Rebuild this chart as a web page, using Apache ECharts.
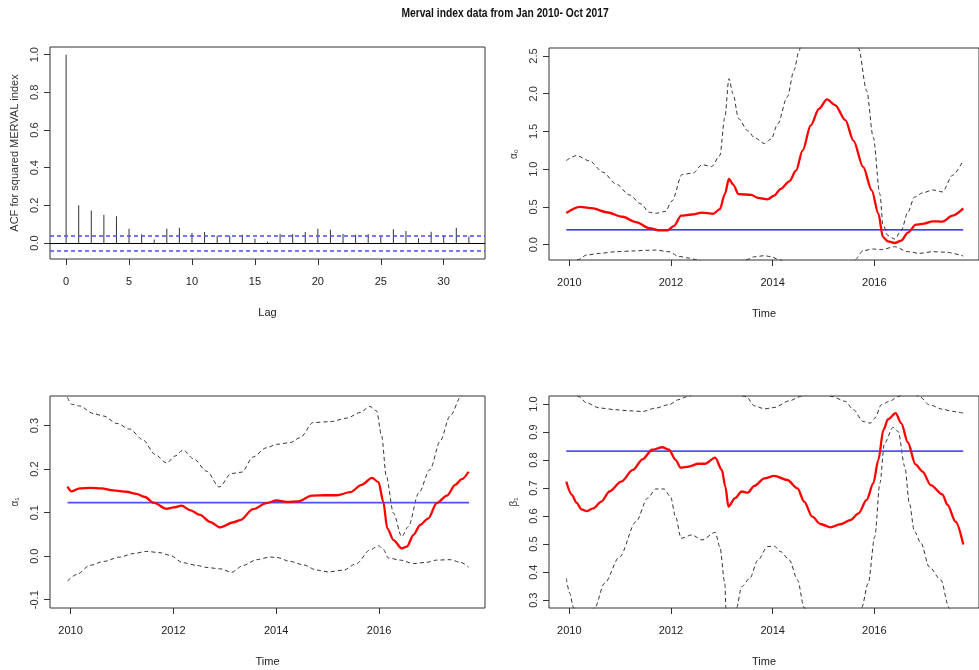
<!DOCTYPE html>
<html>
<head>
<meta charset="utf-8">
<script src="https://cdn.jsdelivr.net/npm/echarts@6/dist/echarts.min.js"></script>
<style>html,body{margin:0;padding:0;background:#fff;}#c{width:979px;height:670px;}</style>
</head>
<body>
<div id="c"></div>
<script>
// ---------- DATA ----------
const chartTitle = 'Merval index data from Jan 2010- Oct 2017';
const acfLags = [0,1,2,3,4,5,6,7,8,9,10,11,12,13,14,15,16,17,18,19,20,21,22,23,24,25,26,27,28,29,30,31,32];
const acfValues = [1.0,0.20,0.172,0.150,0.142,0.076,0.046,0.018,0.076,0.081,0.053,0.058,0.039,0.039,0.044,0.023,0.007,0.048,0.048,0.058,0.076,0.071,0.048,0.044,0.046,0.034,0.073,0.064,0.025,0.060,0.039,0.081,0.034];
const acfCI = 0.045;
const acfXTicks = [0,5,10,15,20,25,30];
const acfYTicks = [0,0.2,0.4,0.6,0.8,1.0];

const timeTicks = [2010,2012,2014,2016];
const tStart = 2009.94, tEnd = 2017.75;

// alpha0
const a0Const = 0.195;
const a0Est = [[2009.94,0.42],[2010.21,0.50],[2010.47,0.48],[2010.73,0.43],[2011.05,0.37],[2011.31,0.30],[2011.57,0.22],[2011.76,0.19],[2011.93,0.19],[2012.06,0.25],[2012.20,0.385],[2012.41,0.40],[2012.61,0.425],[2012.83,0.41],[2012.96,0.47],[2013.06,0.67],[2013.14,0.87],[2013.22,0.80],[2013.33,0.67],[2013.58,0.66],[2013.71,0.62],[2013.90,0.60],[2014.03,0.65],[2014.16,0.74],[2014.33,0.84],[2014.46,0.98],[2014.59,1.25],[2014.75,1.58],[2014.91,1.80],[2015.07,1.925],[2015.23,1.85],[2015.43,1.65],[2015.59,1.38],[2015.78,1.03],[2015.95,0.72],[2016.08,0.41],[2016.17,0.10],[2016.27,0.044],[2016.40,0.022],[2016.53,0.053],[2016.66,0.16],[2016.82,0.265],[2016.98,0.28],[2017.15,0.31],[2017.34,0.305],[2017.54,0.385],[2017.75,0.48]];
const a0Upper = [[2009.94,1.115],[2010.14,1.18],[2010.40,1.11],[2010.66,0.96],[2010.92,0.805],[2011.18,0.66],[2011.41,0.54],[2011.57,0.43],[2011.70,0.416],[2011.89,0.44],[2012.02,0.58],[2012.22,0.93],[2012.44,0.95],[2012.61,1.06],[2012.80,1.035],[2012.96,1.18],[2013.06,1.69],[2013.14,2.20],[2013.22,2.00],[2013.33,1.67],[2013.51,1.51],[2013.64,1.42],[2013.84,1.34],[2013.97,1.40],[2014.10,1.60],[2014.29,1.96],[2014.42,2.31],[2014.52,2.57],[2014.62,2.9],[2014.9,3.5],[2015.2,3.8],[2015.45,3.4],[2015.69,2.60],[2015.85,2.04],[2015.98,1.42],[2016.11,0.67],[2016.17,0.27],[2016.27,0.12],[2016.40,0.075],[2016.53,0.186],[2016.66,0.43],[2016.79,0.63],[2016.95,0.686],[2017.15,0.725],[2017.34,0.70],[2017.54,0.92],[2017.75,1.12]];
const a0Lower = [[2009.94,-0.32],[2010.05,-0.26],[2010.17,-0.20],[2010.34,-0.137],[2010.60,-0.115],[2010.92,-0.093],[2011.25,-0.084],[2011.50,-0.075],[2011.70,-0.071],[2011.96,-0.093],[2012.15,-0.155],[2012.35,-0.177],[2012.51,-0.20],[2012.7,-0.26],[2013.0,-0.30],[2013.3,-0.25],[2013.48,-0.20],[2013.64,-0.16],[2013.84,-0.146],[2013.97,-0.16],[2014.13,-0.20],[2014.4,-0.30],[2014.8,-0.40],[2015.2,-0.38],[2015.45,-0.30],[2015.62,-0.20],[2015.78,-0.08],[2015.98,-0.058],[2016.14,-0.066],[2016.40,-0.027],[2016.66,-0.093],[2016.89,-0.115],[2017.15,-0.093],[2017.41,-0.10],[2017.75,-0.15]];
const a0YTicks = [0,0.5,1.0,1.5,2.0,2.5];

// alpha1
const a1Const = 0.123;
const a1Est = [[2009.94,0.160],[2010.02,0.149],[2010.18,0.156],[2010.38,0.157],[2010.60,0.156],[2010.83,0.151],[2011.09,0.148],[2011.28,0.143],[2011.45,0.136],[2011.61,0.123],[2011.87,0.109],[2012.00,0.112],[2012.16,0.116],[2012.32,0.106],[2012.52,0.095],[2012.71,0.079],[2012.91,0.066],[2013.17,0.078],[2013.30,0.083],[2013.55,0.108],[2013.81,0.122],[2014.01,0.128],[2014.20,0.125],[2014.43,0.126],[2014.69,0.139],[2014.95,0.140],[2015.18,0.140],[2015.44,0.147],[2015.66,0.164],[2015.86,0.180],[2015.99,0.170],[2016.08,0.126],[2016.16,0.064],[2016.28,0.037],[2016.44,0.018],[2016.54,0.022],[2016.67,0.049],[2016.80,0.072],[2016.96,0.087],[2017.12,0.122],[2017.32,0.139],[2017.48,0.164],[2017.61,0.177],[2017.74,0.194]];
const a1Upper = [[2009.94,0.365],[2010.02,0.349],[2010.18,0.345],[2010.44,0.328],[2010.64,0.322],[2010.90,0.305],[2011.15,0.292],[2011.41,0.267],[2011.64,0.234],[2011.87,0.214],[2012.03,0.230],[2012.19,0.244],[2012.39,0.224],[2012.65,0.195],[2012.89,0.159],[2013.13,0.190],[2013.33,0.193],[2013.55,0.228],[2013.81,0.249],[2014.01,0.257],[2014.27,0.261],[2014.46,0.272],[2014.72,0.307],[2015.05,0.309],[2015.37,0.317],[2015.63,0.330],[2015.82,0.344],[2015.95,0.334],[2016.05,0.276],[2016.14,0.184],[2016.28,0.099],[2016.44,0.045],[2016.57,0.068],[2016.77,0.145],[2016.99,0.199],[2017.19,0.265],[2017.38,0.322],[2017.61,0.370],[2017.74,0.40]];
const a1Lower = [[2009.94,-0.057],[2010.12,-0.042],[2010.38,-0.021],[2010.64,-0.012],[2010.96,-0.002],[2011.22,0.006],[2011.48,0.011],[2011.74,0.008],[2011.93,0.002],[2012.19,-0.015],[2012.45,-0.021],[2012.65,-0.026],[2012.91,-0.029],[2013.13,-0.037],[2013.36,-0.021],[2013.62,-0.008],[2013.88,-0.002],[2014.01,-0.003],[2014.27,-0.012],[2014.53,-0.020],[2014.79,-0.032],[2015.01,-0.036],[2015.31,-0.032],[2015.56,-0.017],[2015.82,0.014],[2015.99,0.024],[2016.08,0.016],[2016.18,-0.004],[2016.41,-0.009],[2016.67,-0.017],[2016.93,-0.014],[2017.12,-0.009],[2017.38,-0.008],[2017.58,-0.014],[2017.74,-0.025]];
const a1YTicks = [-0.1,0,0.1,0.2,0.3];

// beta1
const b1Const = 0.832;
const b1Est = [[2009.94,0.723],[2010.05,0.676],[2010.14,0.648],[2010.24,0.624],[2010.34,0.618],[2010.47,0.628],[2010.63,0.652],[2010.79,0.688],[2011.02,0.723],[2011.25,0.765],[2011.44,0.803],[2011.63,0.837],[2011.83,0.846],[2011.96,0.837],[2012.09,0.801],[2012.19,0.773],[2012.35,0.777],[2012.54,0.787],[2012.67,0.787],[2012.87,0.809],[2013.00,0.765],[2013.07,0.705],[2013.13,0.634],[2013.26,0.664],[2013.39,0.688],[2013.51,0.684],[2013.64,0.708],[2013.84,0.735],[2014.03,0.744],[2014.29,0.729],[2014.49,0.699],[2014.62,0.652],[2014.78,0.598],[2014.94,0.572],[2015.14,0.560],[2015.33,0.571],[2015.53,0.586],[2015.69,0.610],[2015.85,0.658],[2015.98,0.717],[2016.08,0.801],[2016.18,0.908],[2016.27,0.946],[2016.42,0.968],[2016.53,0.932],[2016.66,0.863],[2016.81,0.785],[2016.95,0.759],[2017.11,0.711],[2017.34,0.678],[2017.44,0.640],[2017.60,0.580],[2017.75,0.499]];
const b1Upper = [[2009.94,1.06],[2010.19,1.027],[2010.34,1.004],[2010.60,0.986],[2010.92,0.980],[2011.18,0.976],[2011.44,0.974],[2011.70,0.986],[2011.96,0.998],[2012.15,1.016],[2012.32,1.027],[2012.6,1.05],[2013.0,1.06],[2013.48,1.027],[2013.64,0.994],[2013.84,0.983],[2014.03,0.988],[2014.33,1.012],[2014.55,1.027],[2014.85,1.05],[2015.17,1.027],[2015.43,1.010],[2015.59,0.980],[2015.78,0.938],[2015.92,0.932],[2016.01,0.950],[2016.14,0.998],[2016.30,1.010],[2016.47,1.027],[2016.68,1.05],[2016.89,1.027],[2017.08,0.998],[2017.34,0.982],[2017.54,0.974],[2017.75,0.968]];
const b1Lower = [[2009.94,0.378],[2010.01,0.324],[2010.08,0.273],[2010.3,0.22],[2010.50,0.273],[2010.69,0.360],[2010.99,0.455],[2011.31,0.580],[2011.54,0.664],[2011.70,0.697],[2011.86,0.697],[2011.99,0.670],[2012.09,0.598],[2012.20,0.521],[2012.41,0.533],[2012.61,0.515],[2012.87,0.542],[2012.96,0.491],[2013.06,0.360],[2013.08,0.273],[2013.18,0.22],[2013.29,0.273],[2013.39,0.348],[2013.55,0.378],[2013.71,0.443],[2013.90,0.491],[2014.03,0.493],[2014.16,0.473],[2014.33,0.443],[2014.49,0.372],[2014.62,0.273],[2015.0,0.15],[2015.4,0.17],[2015.75,0.273],[2015.88,0.360],[2016.01,0.527],[2016.11,0.717],[2016.20,0.860],[2016.37,0.917],[2016.47,0.902],[2016.60,0.777],[2016.69,0.646],[2016.79,0.545],[2016.92,0.503],[2017.08,0.419],[2017.31,0.372],[2017.47,0.273],[2017.6,0.2],[2017.75,0.15]];
const b1YTicks = [0.3,0.4,0.5,0.6,0.7,0.8,0.9,1.0];

// ---------- CHART ----------
const SANS = "'Liberation Sans',Arial,sans-serif";
const TXT = '#222';

function xAxisCfg(gi, min, max, ticks, name) {
  return {
    type: 'value', gridIndex: gi, min: min, max: max,
    name: name, nameLocation: 'middle', nameGap: 48,
    nameTextStyle: {fontFamily: SANS, fontSize: 11, color: TXT},
    axisLine: {show: false, onZero: false}, splitLine: {show: false},
    axisTick: {show: true, inside: false, length: 6, lineStyle: {color: '#333'}, customValues: ticks},
    axisLabel: {customValues: ticks, margin: 17, fontFamily: SANS, fontSize: 11, color: TXT,
      formatter: v => String(Math.round(v))}
  };
}
function yAxisCfg(gi, min, max, ticks, name, gap, nameSize) {
  return {
    type: 'value', gridIndex: gi, min: min, max: max,
    name: name, nameLocation: 'middle', nameGap: gap, nameRotate: 90,
    nameTextStyle: {fontFamily: SANS, fontSize: nameSize, color: '#333'},
    axisLine: {show: false, onZero: false}, splitLine: {show: false},
    axisTick: {show: true, inside: false, length: 6, lineStyle: {color: '#333'}, customValues: ticks},
    axisLabel: {customValues: ticks, rotate: 90, margin: 10, fontFamily: SANS, fontSize: 11, color: '#333',
      formatter: v => v.toFixed(1)}
  };
}
function gridCfg(left, top) {
  return {left: left, top: top, width: 435, height: 212, show: true, borderColor: '#333', borderWidth: 1, backgroundColor: 'transparent'};
}
function redLine(idx, data) {
  return {type: 'line', xAxisIndex: idx, yAxisIndex: idx, data: data, showSymbol: false, symbol: 'none',
    smooth: 0.3, smoothMonotone: 'x', clip: true, lineStyle: {color: '#ff0000', width: 2.3}, z: 5};
}
function dashLine(idx, data) {
  return {type: 'line', xAxisIndex: idx, yAxisIndex: idx, data: data, showSymbol: false, symbol: 'none',
    smooth: 0.3, smoothMonotone: 'x', clip: true, lineStyle: {color: '#333', width: 1, type: [4, 3]}, z: 3};
}
function constLine(idx, value, color, width) {
  return {type: 'line', xAxisIndex: idx, yAxisIndex: idx, data: [[tStart, value], [tEnd, value]],
    showSymbol: false, symbol: 'none', clip: true, lineStyle: {color: color, width: width}, z: 4};
}

const tMin = 2009.6, tMax = 2018.06;

const option = {
  animation: false,
  backgroundColor: '#fff',
  graphic: [{
    type: 'text', x: 505, y: 13, scaleX: 0.79, silent: true,
    style: {text: chartTitle, fill: '#111', align: 'center', verticalAlign: 'middle',
      font: "bold 13px 'Liberation Sans', Arial, sans-serif"}
  }],
  grid: [gridCfg(50, 47), gridCfg(549, 48), gridCfg(50, 396), gridCfg(549, 396)],
  xAxis: [
    xAxisCfg(0, -1.28, 33.28, acfXTicks, 'Lag'),
    xAxisCfg(1, tMin, tMax, timeTicks, 'Time'),
    xAxisCfg(2, tMin, tMax, timeTicks, 'Time'),
    xAxisCfg(3, tMin, tMax, timeTicks, 'Time')
  ],
  yAxis: [
    yAxisCfg(0, -0.085, 1.041, acfYTicks, 'ACF for squared MERVAL index', 30, 11),
    yAxisCfg(1, -0.203, 2.606, a0YTicks, 'α₀', 30, 10),
    yAxisCfg(2, -0.119, 0.368, a1YTicks, 'α₁', 30, 10),
    yAxisCfg(3, 0.272, 1.029, b1YTicks, 'β₁', 30, 10)
  ],
  series: [
    {type: 'bar', xAxisIndex: 0, yAxisIndex: 0, barWidth: 1,
      data: acfLags.map((l, i) => [l, acfValues[i]]),
      itemStyle: {color: '#333'},
      markLine: {silent: true, symbol: 'none', label: {show: false},
        data: [
          {yAxis: 0, lineStyle: {color: '#000', width: 1, type: 'solid'}},
          {yAxis: acfCI, lineStyle: {color: '#4a4aff', width: 1.5, type: [4, 3]}},
          {yAxis: -acfCI, lineStyle: {color: '#4a4aff', width: 1.5, type: [4, 3]}}
        ]}
    },
    dashLine(1, a0Upper), dashLine(1, a0Lower), constLine(1, a0Const, '#0000ff', 1.2), redLine(1, a0Est),
    dashLine(2, a1Upper), dashLine(2, a1Lower), constLine(2, a1Const, '#5050ff', 1.6), redLine(2, a1Est),
    dashLine(3, b1Upper), dashLine(3, b1Lower), constLine(3, b1Const, '#5050ff', 1.6), redLine(3, b1Est)
  ]
};
const chart = echarts.init(document.getElementById('c'), null, {renderer: 'canvas'});
chart.setOption(option);
</script>
</body>
</html>
